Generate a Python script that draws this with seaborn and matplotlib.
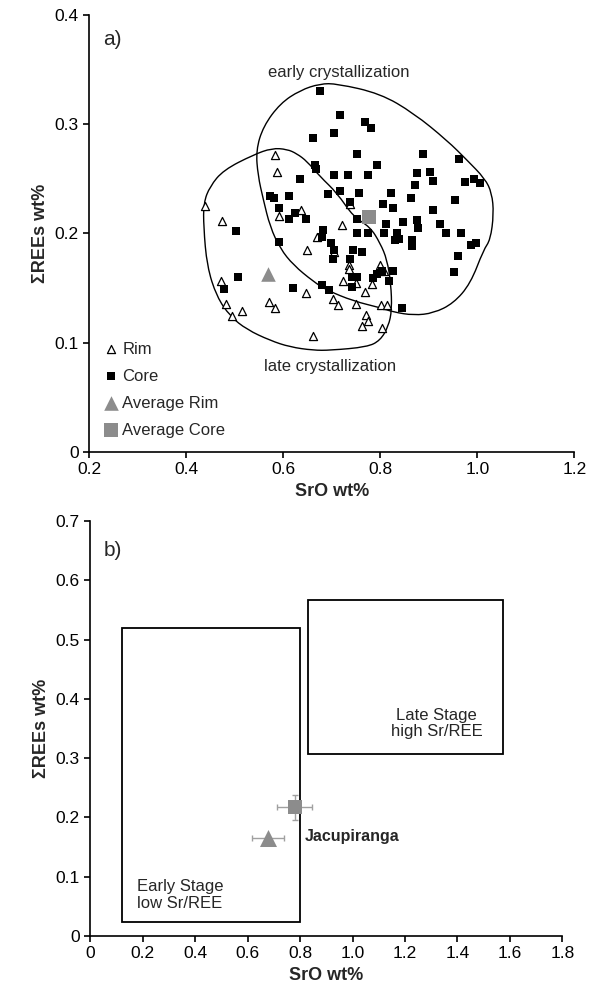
import matplotlib
matplotlib.use('Agg')
import numpy as np
import pandas as pd
import matplotlib.pyplot as plt
from matplotlib.patches import Rectangle, PathPatch
from matplotlib.path import Path
import seaborn as sns

# --- panel a) data: SrO wt% vs sum REE wt%
core_sro = [0.675, 0.717, 0.768, 0.781, 0.705, 0.662, 0.753, 0.793, 0.666, 0.668,
            0.635, 0.704, 0.733, 0.774, 0.717, 0.692, 0.757, 0.822, 0.572, 0.582,
            0.613, 0.738, 0.805, 0.827, 0.592, 0.625, 0.611, 0.647, 0.752, 0.812,
            0.503, 0.682, 0.680, 0.752, 0.774, 0.808, 0.834, 0.592, 0.507, 0.479,
            0.621, 0.699, 0.704, 0.703, 0.744, 0.762, 0.738, 0.831, 0.680, 0.695,
            0.742, 0.752, 0.742, 0.786, 0.793, 0.803, 0.827, 0.819, 0.908, 0.847,
            0.876, 0.877, 0.924, 0.838, 0.865, 0.865, 0.936, 0.966, 0.987, 0.998,
            0.960, 0.952, 0.845, 0.955, 0.889, 0.963, 0.876, 0.903, 0.908, 0.871,
            0.975, 0.994, 1.006, 0.863]
core_ree = [0.330, 0.308, 0.302, 0.296, 0.292, 0.287, 0.273, 0.263, 0.263, 0.259,
            0.250, 0.253, 0.253, 0.253, 0.239, 0.236, 0.237, 0.237, 0.234, 0.232,
            0.234, 0.229, 0.227, 0.223, 0.223, 0.219, 0.213, 0.213, 0.213, 0.209,
            0.202, 0.203, 0.197, 0.200, 0.200, 0.200, 0.200, 0.192, 0.160, 0.149,
            0.150, 0.191, 0.185, 0.177, 0.185, 0.183, 0.177, 0.194, 0.153, 0.148,
            0.160, 0.160, 0.151, 0.159, 0.163, 0.166, 0.166, 0.156, 0.221, 0.210,
            0.212, 0.205, 0.209, 0.195, 0.194, 0.188, 0.200, 0.200, 0.189, 0.191,
            0.179, 0.165, 0.132, 0.231, 0.273, 0.268, 0.255, 0.256, 0.248, 0.244,
            0.247, 0.250, 0.246, 0.232]

rim_sro = [0.584, 0.587, 0.439, 0.474, 0.636, 0.592, 0.738, 0.722, 0.669, 0.471,
           0.483, 0.515, 0.494, 0.570, 0.584, 0.647, 0.661, 0.650, 0.704, 0.735,
           0.735, 0.724, 0.750, 0.769, 0.783, 0.799, 0.808, 0.702, 0.712, 0.750,
           0.801, 0.814, 0.771, 0.774, 0.762, 0.803]
rim_ree = [0.272, 0.256, 0.225, 0.211, 0.221, 0.216, 0.227, 0.208, 0.197, 0.156,
           0.135, 0.129, 0.124, 0.137, 0.132, 0.145, 0.106, 0.185, 0.183, 0.171,
           0.167, 0.156, 0.155, 0.146, 0.154, 0.171, 0.166, 0.140, 0.134, 0.135,
           0.134, 0.134, 0.125, 0.120, 0.115, 0.113]

avg_rim = (0.569, 0.163)
avg_core = (0.776, 0.215)

# hand-drawn outlines of the two groups (control points of a smooth closed curve)
early_outline_x = [0.544, 0.559, 0.594, 0.635, 0.676, 0.711, 0.800, 0.869, 0.938, 0.979,
                   1.016, 1.030, 1.034, 1.027, 1.013, 0.986, 0.951, 0.910, 0.869, 0.827,
                   0.800, 0.745, 0.690, 0.662, 0.621, 0.594, 0.573, 0.559, 0.548]
early_outline_y = [0.276, 0.298, 0.319, 0.331, 0.337, 0.337, 0.328, 0.310, 0.285, 0.267,
                   0.250, 0.237, 0.218, 0.194, 0.185, 0.154, 0.136, 0.127, 0.125, 0.128,
                   0.132, 0.138, 0.148, 0.156, 0.171, 0.186, 0.206, 0.231, 0.253]
late_outline_x = [0.436, 0.449, 0.477, 0.539, 0.577, 0.608, 0.628, 0.649, 0.676, 0.711,
                  0.745, 0.779, 0.800, 0.814, 0.822, 0.824, 0.817, 0.800, 0.773, 0.697,
                  0.662, 0.614, 0.573, 0.525, 0.491, 0.463, 0.443, 0.436]
late_outline_y = [0.228, 0.243, 0.258, 0.272, 0.278, 0.277, 0.273, 0.266, 0.252, 0.237,
                  0.215, 0.206, 0.191, 0.176, 0.154, 0.130, 0.115, 0.102, 0.096, 0.093,
                  0.093, 0.096, 0.102, 0.112, 0.124, 0.142, 0.170, 0.206]

# --- panel b) data
jac_labels = ['Average Rim', 'Average Core']
jac_sro = [0.677, 0.779]
jac_ree = [0.165, 0.217]
jac_xerr = [0.060, 0.068]
jac_yerr = [0.0, 0.021]

early_box = [0.12, 0.80, 0.024, 0.52]   # x0, x1, y0, y1
late_box = [0.83, 1.575, 0.307, 0.567]

GREY = '#8c8c8c'

sns.set_style('ticks')
plt.rcParams['font.family'] = ['Liberation Sans', 'DejaVu Sans']
plt.rcParams['axes.linewidth'] = 1.2
plt.rcParams['xtick.major.width'] = 1.2
plt.rcParams['ytick.major.width'] = 1.2
plt.rcParams['xtick.major.size'] = 4
plt.rcParams['ytick.major.size'] = 4
plt.rcParams['xtick.color'] = 'black'
plt.rcParams['ytick.color'] = 'black'
plt.rcParams['axes.edgecolor'] = 'black'


def fmt(v):
    return '0' if abs(v) < 1e-9 else f'{v:.1f}'


def smooth_outline(ax, xs, ys):
    # closed quadratic-bezier path: control points are the outline vertices,
    # the curve goes through the midpoints between them
    pts = np.column_stack([xs, ys])
    mids = (pts + np.roll(pts, -1, axis=0)) / 2
    verts = [mids[-1]]
    codes = [Path.MOVETO]
    for i in range(len(pts)):
        verts += [pts[i], mids[i]]
        codes += [Path.CURVE3, Path.CURVE3]
    ax.add_patch(PathPatch(Path(verts, codes), fill=False, edgecolor='black',
                           lw=1.0, zorder=2))


fig = plt.figure(figsize=(6.02, 9.91), dpi=100)
ax1 = fig.add_axes([0.148, 0.544, 0.806, 0.441])
ax2 = fig.add_axes([0.150, 0.0555, 0.784, 0.4188])

# ---------- a)
sns.scatterplot(x=rim_sro, y=rim_ree, ax=ax1, marker='^', s=34, color='white',
                edgecolor='black', linewidth=0.9, label='Rim', zorder=3)
sns.scatterplot(x=core_sro, y=core_ree, ax=ax1, marker='s', s=30, color='black',
                edgecolor='black', linewidth=0, label='Core', zorder=3)
sns.scatterplot(x=[avg_rim[0]], y=[avg_rim[1]], ax=ax1, marker='^', s=110, color=GREY,
                edgecolor=GREY, linewidth=0, label='Average Rim', zorder=4)
sns.scatterplot(x=[avg_core[0]], y=[avg_core[1]], ax=ax1, marker='s', s=95, color=GREY,
                edgecolor=GREY, linewidth=0, label='Average Core', zorder=4)

smooth_outline(ax1, early_outline_x, early_outline_y)
smooth_outline(ax1, late_outline_x, late_outline_y)

ax1.text(0.715, 0.347, 'early crystallization', ha='center', va='center', fontsize=12)
ax1.text(0.697, 0.078, 'late crystallization', ha='center', va='center', fontsize=12)
ax1.text(0.229, 0.377, 'a)', ha='left', va='center', fontsize=15)

ax1.set_xlim(0.2, 1.2)
ax1.set_ylim(0, 0.4)
xt1 = [0.2, 0.4, 0.6, 0.8, 1.0, 1.2]
yt1 = [0, 0.1, 0.2, 0.3, 0.4]
ax1.set_xticks(xt1)
ax1.set_xticklabels([fmt(v) for v in xt1])
ax1.set_yticks(yt1)
ax1.set_yticklabels([fmt(v) for v in yt1])
ax1.tick_params(labelsize=12.5)
ax1.set_xlabel('SrO wt%', fontsize=13, fontweight='bold')
ax1.set_ylabel('ΣREEs wt%', fontsize=13, fontweight='bold')
leg = ax1.legend(loc='lower left', bbox_to_anchor=(0.01, 0.01), frameon=False,
                 fontsize=12, handlelength=0.8, handletextpad=0.3, labelspacing=0.72,
                 borderaxespad=0.2)
sns.despine(ax=ax1)

# ---------- b)
for b in (early_box, late_box):
    ax2.add_patch(Rectangle((b[0], b[2]), b[1] - b[0], b[3] - b[2], fill=False,
                            edgecolor='black', lw=1.3, zorder=2))

ax2.errorbar(jac_sro, jac_ree, xerr=jac_xerr, yerr=jac_yerr, fmt='none',
             ecolor='#a0a0a0', elinewidth=1.0, capsize=2.5, capthick=1.0, zorder=3)
sns.scatterplot(x=jac_sro[:1], y=jac_ree[:1], ax=ax2, marker='^', s=150, color=GREY,
                edgecolor=GREY, linewidth=0, zorder=4, legend=False)
sns.scatterplot(x=jac_sro[1:], y=jac_ree[1:], ax=ax2, marker='s', s=110, color=GREY,
                edgecolor=GREY, linewidth=0, zorder=4, legend=False)

ax2.text(0.816, 0.168, 'Jacupiranga', ha='left', va='center', fontsize=11.5,
         fontweight='bold')
ax2.text(1.32, 0.358, 'Late Stage\nhigh Sr/REE', ha='center', va='center', fontsize=12,
         linespacing=1.1)
ax2.text(0.18, 0.069, 'Early Stage\nlow Sr/REE', ha='left', va='center', fontsize=12,
         linespacing=1.1)
ax2.text(0.05, 0.65, 'b)', ha='left', va='center', fontsize=15)

ax2.set_xlim(0, 1.8)
ax2.set_ylim(0, 0.7)
xt2 = [0, 0.2, 0.4, 0.6, 0.8, 1.0, 1.2, 1.4, 1.6, 1.8]
yt2 = [0, 0.1, 0.2, 0.3, 0.4, 0.5, 0.6, 0.7]
ax2.set_xticks(xt2)
ax2.set_xticklabels([fmt(v) for v in xt2])
ax2.set_yticks(yt2)
ax2.set_yticklabels([fmt(v) for v in yt2])
ax2.tick_params(labelsize=12.5)
ax2.set_xlabel('SrO wt%', fontsize=13, fontweight='bold')
ax2.set_ylabel('ΣREEs wt%', fontsize=13, fontweight='bold')
sns.despine(ax=ax2)

fig.savefig('out.png', dpi=100)
